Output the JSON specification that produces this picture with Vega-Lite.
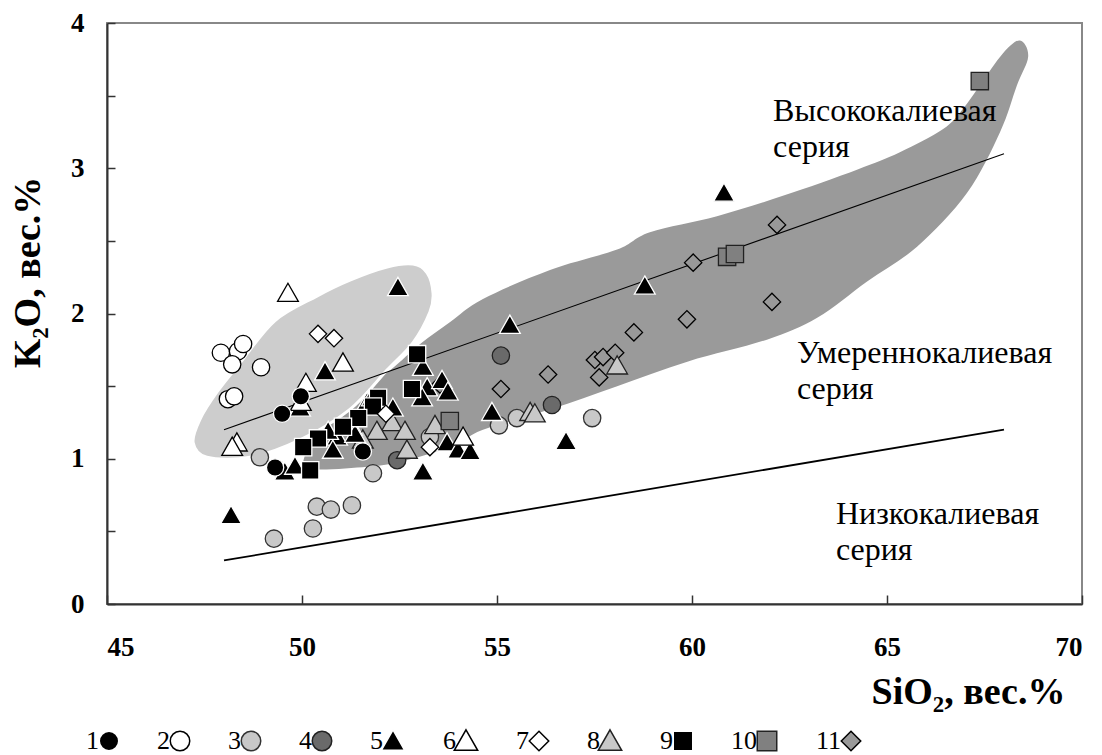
{
 "$schema": "https://vega.github.io/schema/vega-lite/v6.json",
 "width": 975,
 "height": 581,
 "autosize": "none",
 "padding": {"left": 107, "top": 23, "right": 20, "bottom": 151},
 "background": "white",
 "config": {
  "view": {"stroke": "#888888", "strokeWidth": 2},
  "font": "Liberation Serif",
  "axis": {"grid": false, "domainColor": "#333333", "domainWidth": 2, "tickColor": "#333333", "tickWidth": 1.5,
           "labelFont": "Liberation Serif", "labelFontWeight": "bold", "labelFontSize": 27, "labelColor": "black",
           "titleFont": "Liberation Serif", "titleFontWeight": "bold", "titleFontSize": 38, "titleColor": "black"}
 },
 "datasets": {
  "band": [
   {"i": 1, "x": 50.21, "y": 0.93},
   {"i": 2, "x": 51.67, "y": 0.945},
   {"i": 3, "x": 52.5, "y": 0.98},
   {"i": 4, "x": 53.79, "y": 1.08},
   {"i": 5, "x": 54.64, "y": 1.2},
   {"i": 6, "x": 56.36, "y": 1.34},
   {"i": 7, "x": 58.08, "y": 1.5},
   {"i": 8, "x": 59.9, "y": 1.67},
   {"i": 9, "x": 61.92, "y": 1.82},
   {"i": 10, "x": 63.21, "y": 1.97},
   {"i": 11, "x": 64.49, "y": 2.22},
   {"i": 12, "x": 65.77, "y": 2.46},
   {"i": 13, "x": 67.05, "y": 2.83},
   {"i": 14, "x": 67.9, "y": 3.25},
   {"i": 15, "x": 68.33, "y": 3.57},
   {"i": 16, "x": 68.62, "y": 3.77},
   {"i": 17, "x": 68.41, "y": 3.88},
   {"i": 18, "x": 67.97, "y": 3.79},
   {"i": 19, "x": 67.38, "y": 3.57},
   {"i": 20, "x": 66.95, "y": 3.41},
   {"i": 21, "x": 66.44, "y": 3.27},
   {"i": 22, "x": 65.33, "y": 3.11},
   {"i": 23, "x": 64.23, "y": 2.99},
   {"i": 24, "x": 62.33, "y": 2.81},
   {"i": 25, "x": 60.64, "y": 2.67},
   {"i": 26, "x": 58.92, "y": 2.56},
   {"i": 27, "x": 58.08, "y": 2.44},
   {"i": 28, "x": 56.36, "y": 2.3},
   {"i": 29, "x": 54.64, "y": 2.1},
   {"i": 30, "x": 53.79, "y": 1.94},
   {"i": 31, "x": 53.03, "y": 1.79},
   {"i": 32, "x": 52.26, "y": 1.61},
   {"i": 33, "x": 51.23, "y": 1.41},
   {"i": 34, "x": 50.46, "y": 1.2},
   {"i": 35, "x": 50.08, "y": 1.03}
  ],
  "ell": [
   {"i": 1, "x": 47.21, "y": 1.11},
   {"i": 2, "x": 47.38, "y": 1.27},
   {"i": 3, "x": 47.82, "y": 1.46},
   {"i": 4, "x": 48.41, "y": 1.66},
   {"i": 5, "x": 49.3, "y": 1.95},
   {"i": 6, "x": 50.38, "y": 2.12},
   {"i": 7, "x": 51.23, "y": 2.23},
   {"i": 8, "x": 52.18, "y": 2.32},
   {"i": 9, "x": 52.85, "y": 2.34},
   {"i": 10, "x": 53.21, "y": 2.28},
   {"i": 11, "x": 53.36, "y": 2.14},
   {"i": 12, "x": 53.28, "y": 2.01},
   {"i": 13, "x": 52.85, "y": 1.8},
   {"i": 14, "x": 52.18, "y": 1.61},
   {"i": 15, "x": 51.23, "y": 1.34},
   {"i": 16, "x": 49.95, "y": 1.13},
   {"i": 17, "x": 48.67, "y": 1.01},
   {"i": 18, "x": 47.56, "y": 1.01}
  ],
  "lines": [
   {"s": "hi", "x": 48, "y": 1.2},
   {"s": "hi", "x": 68, "y": 3.1},
   {"s": "lo", "x": 48, "y": 0.3},
   {"s": "lo", "x": 68, "y": 1.2}
  ],
  "notes": [
   {"t": "Высококалиевая\nсерия", "x": 62.08, "y": 3.5},
   {"t": "Умереннокалиевая\nсерия", "x": 62.69, "y": 1.83},
   {"t": "Низкокалиевая\nсерия", "x": 63.69, "y": 0.72}
  ],
  "pts": [
   {"g": "3", "x": 48.92, "y": 1.01}, {"g": "3", "x": 51.82, "y": 0.9}, {"g": "3", "x": 53.28, "y": 1.15},
   {"g": "3", "x": 55.05, "y": 1.23}, {"g": "3", "x": 55.51, "y": 1.28}, {"g": "3", "x": 57.44, "y": 1.28},
   {"g": "3", "x": 50.38, "y": 0.67}, {"g": "3", "x": 50.74, "y": 0.65}, {"g": "3", "x": 51.28, "y": 0.68},
   {"g": "3", "x": 50.28, "y": 0.52}, {"g": "3", "x": 49.28, "y": 0.45},
   {"g": "4", "x": 52.44, "y": 0.99}, {"g": "4", "x": 55.1, "y": 1.71}, {"g": "4", "x": 56.41, "y": 1.37},
   {"g": "11", "x": 53.54, "y": 1.51}, {"g": "11", "x": 55.1, "y": 1.48}, {"g": "11", "x": 56.31, "y": 1.58},
   {"g": "11", "x": 57.51, "y": 1.68}, {"g": "11", "x": 57.72, "y": 1.7}, {"g": "11", "x": 58.03, "y": 1.73},
   {"g": "11", "x": 57.62, "y": 1.56}, {"g": "11", "x": 58.51, "y": 1.87}, {"g": "11", "x": 59.87, "y": 1.96},
   {"g": "11", "x": 60.03, "y": 2.35}, {"g": "11", "x": 62.18, "y": 2.61}, {"g": "11", "x": 62.05, "y": 2.08},
   {"g": "8", "x": 52.31, "y": 1.25}, {"g": "8", "x": 51.92, "y": 1.19}, {"g": "8", "x": 52.64, "y": 1.19},
   {"g": "8", "x": 51.56, "y": 1.13}, {"g": "8", "x": 52.69, "y": 1.06}, {"g": "8", "x": 53.41, "y": 1.23},
   {"g": "8", "x": 58.08, "y": 1.64}, {"g": "8", "x": 55.85, "y": 1.32}, {"g": "8", "x": 55.97, "y": 1.31},
   {"g": "5", "x": 52.46, "y": 2.18}, {"g": "5", "x": 50.59, "y": 1.6}, {"g": "5", "x": 49.95, "y": 1.35},
   {"g": "5", "x": 53.1, "y": 1.63}, {"g": "5", "x": 53.21, "y": 1.49}, {"g": "5", "x": 53.59, "y": 1.54},
   {"g": "5", "x": 53.74, "y": 1.46}, {"g": "5", "x": 53.08, "y": 1.42}, {"g": "5", "x": 51.67, "y": 1.39},
   {"g": "5", "x": 52.33, "y": 1.35}, {"g": "5", "x": 51.28, "y": 1.22}, {"g": "5", "x": 50.9, "y": 1.15},
   {"g": "5", "x": 50.67, "y": 1.19}, {"g": "5", "x": 51.36, "y": 1.17}, {"g": "5", "x": 50.79, "y": 1.06},
   {"g": "5", "x": 53.1, "y": 0.91}, {"g": "5", "x": 53.72, "y": 1.11}, {"g": "5", "x": 54.0, "y": 1.06},
   {"g": "5", "x": 54.31, "y": 1.05}, {"g": "5", "x": 49.56, "y": 0.91}, {"g": "5", "x": 49.82, "y": 0.95},
   {"g": "5", "x": 54.87, "y": 1.32}, {"g": "5", "x": 55.33, "y": 1.92}, {"g": "5", "x": 58.79, "y": 2.19},
   {"g": "5", "x": 60.82, "y": 2.83}, {"g": "5", "x": 56.77, "y": 1.12}, {"g": "5", "x": 48.18, "y": 0.61},
   {"g": "5", "x": 51.79, "y": 1.42},
   {"g": "9", "x": 52.95, "y": 1.72}, {"g": "9", "x": 52.82, "y": 1.48}, {"g": "9", "x": 51.95, "y": 1.42},
   {"g": "9", "x": 51.82, "y": 1.36}, {"g": "9", "x": 51.44, "y": 1.28}, {"g": "9", "x": 51.05, "y": 1.22},
   {"g": "9", "x": 50.41, "y": 1.14}, {"g": "9", "x": 50.03, "y": 1.08}, {"g": "9", "x": 50.21, "y": 0.92},
   {"g": "6", "x": 49.64, "y": 2.14}, {"g": "6", "x": 51.05, "y": 1.66}, {"g": "6", "x": 50.1, "y": 1.52},
   {"g": "6", "x": 48.33, "y": 1.11}, {"g": "6", "x": 48.21, "y": 1.08}, {"g": "6", "x": 54.13, "y": 1.15},
   {"g": "6", "x": 49.97, "y": 1.39},
   {"g": "7", "x": 50.41, "y": 1.86}, {"g": "7", "x": 50.82, "y": 1.83}, {"g": "7", "x": 52.15, "y": 1.31},
   {"g": "7", "x": 53.28, "y": 1.08},
   {"g": "10", "x": 53.79, "y": 1.26}, {"g": "10", "x": 60.9, "y": 2.39}, {"g": "10", "x": 61.1, "y": 2.41},
   {"g": "10", "x": 67.38, "y": 3.6},
   {"g": "2", "x": 47.92, "y": 1.73}, {"g": "2", "x": 48.36, "y": 1.74}, {"g": "2", "x": 48.49, "y": 1.79},
   {"g": "2", "x": 48.21, "y": 1.65}, {"g": "2", "x": 48.95, "y": 1.63}, {"g": "2", "x": 48.1, "y": 1.41},
   {"g": "2", "x": 48.26, "y": 1.43},
   {"g": "1", "x": 49.97, "y": 1.43}, {"g": "1", "x": 49.49, "y": 1.31}, {"g": "1", "x": 51.56, "y": 1.05},
   {"g": "1", "x": 49.31, "y": 0.94}
  ]
 },
 "layer": [
  {
   "data": {"name": "band"},
   "mark": {"type": "line", "interpolate": "cardinal-closed", "fill": "#9a9a9a", "stroke": "#9a9a9a", "strokeWidth": 0},
   "encoding": {
    "x": {"field": "x", "type": "quantitative", "scale": {"domain": [45, 70], "nice": false, "zero": false},
          "axis": {"values": [45, 50, 55, 60, 65, 70], "tickSize": -9, "labelPadding": 39, "title": "SiO₂, вес.%",
                   "titleX": 861, "titleY": 88, "titleAlign": "center", "titleBaseline": "middle", "titleAnchor": null}},
    "y": {"field": "y", "type": "quantitative", "scale": {"domain": [0, 4], "nice": false, "zero": false},
          "axis": {"values": [0, 0.5, 1, 1.5, 2, 2.5, 3, 3.5, 4], "tickSize": -8, "labelPadding": 31,
                   "labelExpr": "datum.value % 1 === 0 ? format(datum.value, 'd') : ''", "title": "K₂O, вес.%",
                   "titleX": -79, "titleY": 249, "titleAlign": "center", "titleBaseline": "middle", "titleAngle": -90}},
    "order": {"field": "i", "type": "quantitative"}
   }
  },
  {
   "data": {"name": "ell"},
   "mark": {"type": "line", "interpolate": "cardinal-closed", "fill": "#cdcdcd", "stroke": "white", "strokeWidth": 3},
   "encoding": {
    "x": {"field": "x", "type": "quantitative"},
    "y": {"field": "y", "type": "quantitative"},
    "order": {"field": "i", "type": "quantitative"}
   }
  },
  {
   "data": {"name": "lines"},
   "transform": [{"filter": "datum.s === 'hi'"}],
   "mark": {"type": "line", "color": "black", "strokeWidth": 1.1},
   "encoding": {
    "x": {"field": "x", "type": "quantitative"},
    "y": {"field": "y", "type": "quantitative"}
   }
  },
  {
   "data": {"name": "lines"},
   "transform": [{"filter": "datum.s === 'lo'"}],
   "mark": {"type": "line", "color": "black", "strokeWidth": 1.8},
   "encoding": {
    "x": {"field": "x", "type": "quantitative"},
    "y": {"field": "y", "type": "quantitative"}
   }
  },
  {
   "data": {"name": "pts"},
   "mark": {"type": "point", "size": 300, "strokeWidth": 1.3, "opacity": 1, "fillOpacity": 1, "strokeOpacity": 1},
   "encoding": {
    "x": {"field": "x", "type": "quantitative"},
    "y": {"field": "y", "type": "quantitative"},
    "shape": {"field": "g", "type": "nominal",
              "scale": {"domain": ["1","2","3","4","5","6","7","8","9","10","11"],
                        "range": ["circle","circle","circle","circle","M0,-1.15L1.2,0.95L-1.2,0.95Z","M0,-1.15L1.2,0.95L-1.2,0.95Z","diamond","M0,-1.15L1.2,0.95L-1.2,0.95Z","square","square","diamond"]},
              "legend": {"title": null, "orient": "none", "legendX": -11, "legendY": 705, "direction": "horizontal", "columns": 11,
                         "labelFont": "Liberation Serif", "labelFontSize": 26, "labelColor": "black", "labelAlign": "right", "labelOffset": -23,
                         "symbolSize": 380, "symbolStrokeWidth": 1.5, "columnPadding": 35}},
    "fill": {"field": "g", "type": "nominal",
             "scale": {"domain": ["1","2","3","4","5","6","7","8","9","10","11"],
                       "range": ["#000000","#ffffff","#c8c8c8","#6a6a6a","#000000","#ffffff","#ffffff","#c8c8c8","#000000","#808080","#999999"]},
             "legend": {"title": null, "orient": "none", "legendX": -11, "legendY": 705, "direction": "horizontal", "columns": 11,
                        "labelFont": "Liberation Serif", "labelFontSize": 26, "labelColor": "black", "labelAlign": "right", "labelOffset": -23,
                        "symbolSize": 380, "symbolStrokeWidth": 1.5, "columnPadding": 35}},
    "stroke": {"field": "g", "type": "nominal",
               "scale": {"domain": ["1","2","3","4","5","6","7","8","9","10","11"],
                         "range": ["#ffffff","#000000","#333333","#222222","#ffffff","#000000","#000000","#222222","#ffffff","#222222","#000000"]},
               "legend": {"title": null, "orient": "none", "legendX": -11, "legendY": 705, "direction": "horizontal", "columns": 11,
                          "labelFont": "Liberation Serif", "labelFontSize": 26, "labelColor": "black", "labelAlign": "right", "labelOffset": -23,
                          "symbolSize": 380, "symbolStrokeWidth": 1.5, "columnPadding": 35}}
   }
  },
  {
   "data": {"name": "notes"},
   "mark": {"type": "text", "align": "left", "baseline": "top", "font": "Liberation Serif", "fontSize": 32, "lineHeight": 36, "lineBreak": "\n", "color": "black"},
   "encoding": {
    "x": {"field": "x", "type": "quantitative"},
    "y": {"field": "y", "type": "quantitative"},
    "text": {"field": "t", "type": "nominal"}
   }
  }
 ]
}
